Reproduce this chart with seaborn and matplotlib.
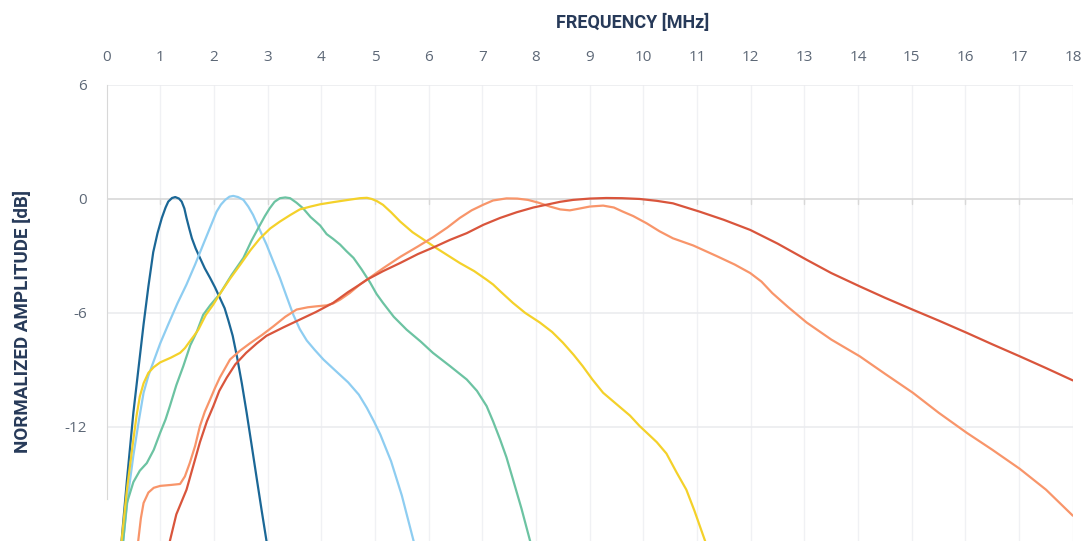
import numpy as np
import pandas as pd
import matplotlib
matplotlib.use("Agg")
import matplotlib.pyplot as plt
import seaborn as sns

# frequency [MHz] / normalized amplitude [dB]
f_dark = [0.28, 0.38, 0.5, 0.6, 0.69, 0.78, 0.87, 0.95, 1.03, 1.1, 1.15, 1.22, 1.28, 1.35, 1.4, 1.45, 1.49,
          1.54, 1.59, 1.66, 1.74, 1.83, 1.93, 2.02, 2.11, 2.2, 2.27, 2.35, 2.43, 2.52, 2.61, 2.7, 2.8, 2.89, 2.98]
a_dark = [-18.0, -14.8, -11.25, -8.8, -6.6, -4.6, -2.8, -1.8, -1.0, -0.45, -0.14, 0.05, 0.1, 0.02, -0.14, -0.5,
          -1.0, -1.55, -2.07, -2.6, -3.1, -3.65, -4.16, -4.65, -5.2, -5.75, -6.4, -7.2, -8.3, -9.7, -11.25,
          -12.9, -14.75, -16.4, -18.0]

f_light = [0.31, 0.4, 0.5, 0.6, 0.69, 0.78, 0.87, 1.0, 1.15, 1.32, 1.49, 1.65, 1.8, 1.93, 2.05, 2.13, 2.21, 2.29,
           2.36, 2.45, 2.55, 2.64, 2.73, 2.85, 2.98, 3.1, 3.23, 3.35, 3.48, 3.6, 3.73, 3.88, 4.04, 4.25, 4.5, 4.7,
           4.85, 4.98, 5.1, 5.2, 5.3, 5.4, 5.5, 5.61, 5.72]
a_light = [-18.0, -15.6, -13.5, -11.7, -10.2, -9.3, -8.6, -7.6, -6.6, -5.5, -4.5, -3.45, -2.4, -1.5, -0.67, -0.3,
           -0.05, 0.12, 0.16, 0.1, -0.05, -0.4, -0.84, -1.6, -2.4, -3.25, -4.16, -5.1, -6.1, -6.85, -7.45, -7.95,
           -8.45, -9.0, -9.65, -10.3, -11.0, -11.7, -12.4, -13.1, -13.8, -14.7, -15.6, -16.8, -18.0]

f_green = [0.31, 0.38, 0.5, 0.62, 0.75, 0.88, 1.0, 1.1, 1.18, 1.3, 1.43, 1.56, 1.68, 1.8, 1.93, 2.11, 2.33, 2.55,
           2.7, 2.86, 2.95, 3.04, 3.13, 3.23, 3.33, 3.42, 3.54, 3.66, 3.8, 3.98, 4.1, 4.22, 4.35, 4.47, 4.6, 4.75,
           4.91, 5.03, 5.15, 5.35, 5.59, 5.85, 6.08, 6.4, 6.71, 6.9, 7.08, 7.2, 7.33, 7.45, 7.57, 7.73, 7.89]
a_green = [-18.0, -16.0, -14.9, -14.3, -13.9, -13.2, -12.3, -11.6, -10.9, -9.8, -8.8, -7.7, -7.0, -6.1, -5.6,
           -5.0, -4.0, -3.1, -2.2, -1.36, -0.9, -0.49, -0.15, 0.04, 0.08, 0.04, -0.2, -0.49, -0.95, -1.4, -1.85,
           -2.1, -2.4, -2.75, -3.1, -3.7, -4.4, -5.0, -5.47, -6.2, -6.88, -7.5, -8.1, -8.8, -9.5, -10.1, -10.9,
           -11.7, -12.65, -13.6, -14.75, -16.3, -18.0]

f_yellow = [0.28, 0.38, 0.5, 0.56, 0.62, 0.69, 0.78, 0.88, 1.0, 1.2, 1.37, 1.46, 1.55, 1.63, 1.71, 1.85, 1.99,
            2.11, 2.3, 2.49, 2.68, 2.86, 3.05, 3.23, 3.42, 3.6, 3.8, 3.98, 4.22, 4.5, 4.72, 4.85, 4.94, 5.04, 5.15,
            5.3, 5.47, 5.7, 5.96, 6.15, 6.34, 6.58, 6.85, 7.08, 7.2, 7.35, 7.57, 7.8, 8.07, 8.3, 8.5, 8.7, 8.87,
            9.05, 9.25, 9.5, 9.75, 9.93, 10.1, 10.25, 10.43, 10.62, 10.8, 10.95, 11.15]
a_yellow = [-18.0, -15.3, -12.65, -11.4, -10.4, -9.7, -9.15, -8.85, -8.6, -8.35, -8.1, -7.85, -7.5, -7.2, -6.88,
            -6.1, -5.55, -5.0, -4.2, -3.46, -2.7, -2.07, -1.55, -1.19, -0.85, -0.55, -0.4, -0.28, -0.17, -0.05,
            0.04, 0.06, 0.0, -0.12, -0.31, -0.7, -1.19, -1.75, -2.24, -2.6, -2.94, -3.37, -3.8, -4.25, -4.5, -4.9,
            -5.47, -6.0, -6.5, -7.0, -7.56, -8.2, -8.8, -9.5, -10.2, -10.8, -11.4, -11.95, -12.4, -12.8, -13.4,
            -14.4, -15.3, -16.4, -18.0]

f_salmon = [0.59, 0.64, 0.69, 0.78, 0.88, 1.0, 1.2, 1.37, 1.46, 1.55, 1.65, 1.74, 1.83, 1.93, 2.02, 2.11, 2.3,
            2.48, 2.67, 2.9, 3.11, 3.33, 3.54, 3.75, 3.91, 4.1, 4.22, 4.35, 4.53, 4.72, 4.85, 5.15, 5.47, 5.8,
            6.09, 6.35, 6.58, 6.8, 7.02, 7.2, 7.45, 7.65, 7.85, 8.05, 8.26, 8.45, 8.63, 8.82, 9.0, 9.25, 9.45,
            9.62, 9.81, 10.06, 10.3, 10.55, 10.93, 11.36, 11.7, 11.99, 12.2, 12.4, 12.7, 13.04, 13.5, 14.03, 14.5,
            15.02, 15.5, 16.02, 16.5, 17.01, 17.5, 18.0]
a_salmon = [-18.0, -16.8, -16.0, -15.45, -15.2, -15.1, -15.05, -15.0, -14.6, -13.9, -13.0, -11.95, -11.2, -10.55,
            -9.95, -9.4, -8.45, -8.0, -7.6, -7.15, -6.7, -6.2, -5.82, -5.7, -5.65, -5.6, -5.5, -5.3, -4.95, -4.5,
            -4.25, -3.65, -3.05, -2.5, -2.0, -1.5, -1.0, -0.6, -0.3, -0.08, 0.03, 0.02, -0.05, -0.2, -0.4, -0.55,
            -0.6, -0.5, -0.4, -0.35, -0.45, -0.67, -0.9, -1.28, -1.7, -2.07, -2.45, -3.0, -3.45, -3.9, -4.35,
            -4.95, -5.7, -6.5, -7.4, -8.28, -9.2, -10.2, -11.25, -12.3, -13.2, -14.2, -15.3, -16.67]

f_red = [1.18, 1.3, 1.49, 1.62, 1.74, 1.87, 1.99, 2.1, 2.24, 2.4, 2.6, 2.8, 2.98, 3.3, 3.6, 3.9, 4.22, 4.5, 4.72,
         4.85, 5.15, 5.47, 5.8, 6.09, 6.4, 6.71, 7.02, 7.33, 7.64, 7.95, 8.2, 8.45, 8.69, 9.0, 9.31, 9.6, 9.93,
         10.25, 10.55, 10.8, 11.05, 11.5, 11.99, 12.5, 13.04, 13.5, 14.03, 14.5, 15.02, 15.5, 16.02, 16.5, 17.01,
         17.5, 18.0]
a_red = [-18.0, -16.6, -15.3, -14.0, -12.8, -11.7, -10.9, -10.1, -9.4, -8.7, -8.1, -7.6, -7.2, -6.75, -6.35,
         -5.95, -5.47, -4.9, -4.5, -4.25, -3.8, -3.37, -2.9, -2.55, -2.15, -1.8, -1.36, -1.0, -0.7, -0.45, -0.3,
         -0.15, -0.05, 0.02, 0.05, 0.04, 0.0, -0.1, -0.23, -0.45, -0.67, -1.1, -1.63, -2.35, -3.2, -3.9, -4.6,
         -5.2, -5.83, -6.4, -7.04, -7.65, -8.28, -8.9, -9.55]

series = [
    (f_dark, a_dark, "#1b6796"),
    (f_light, a_light, "#8ecdf1"),
    (f_green, a_green, "#6cc3a2"),
    (f_yellow, a_yellow, "#f4d12a"),
    (f_salmon, a_salmon, "#f8956a"),
    (f_red, a_red, "#d9553c"),
]

x_ticks = list(range(0, 19))
y_ticks = [6, 0, -6, -12]

sns.set_style("white")
plt.rcParams["font.family"] = ["Open Sans", "DejaVu Sans"]

fig = plt.figure(figsize=(10.87, 5.41), dpi=100)
ax = fig.add_axes([0.098, 0.0, 0.889, 0.843])

for fx, ay, col in series:
    df = pd.DataFrame({"f": fx, "a": ay})
    sns.lineplot(data=df, x="f", y="a", ax=ax, color=col, linewidth=1.6, sort=False, zorder=3)

ax.set_xlim(0, 18)
ax.set_ylim(-18, 6)

# grid
for x in x_ticks[1:]:
    ax.axvline(x, color="#f0f1f4", linewidth=1.0, zorder=1)
for y in [6, -6, -12]:
    ax.axhline(y, color="#ebecef", linewidth=1.2, zorder=1)
ax.axhline(0, color="#d8d8d8", linewidth=1.2, zorder=2)
for x in x_ticks[1:]:
    ax.plot([x, x], [0, -0.28], color="#d8d8d8", linewidth=1.0, zorder=2)

for s in ["top", "right", "bottom"]:
    ax.spines[s].set_visible(False)
ax.spines["left"].set_color("#d8d8d8")
ax.spines["left"].set_bounds(-15.8, 6)

ax.xaxis.tick_top()
ax.set_xticks(x_ticks)
ax.set_xticklabels([str(v) for v in x_ticks])
ax.set_yticks(y_ticks)
ax.set_yticklabels([str(v) for v in y_ticks])
ax.tick_params(axis="both", length=0, labelsize=11, colors="#5d6877")
ax.tick_params(axis="x", pad=14)
ax.tick_params(axis="y", pad=14)

ax.set_xlabel("")
ax.set_ylabel("")
fig.text(0.582, 0.958, "FREQUENCY [MHz]", ha="center", va="center", fontsize=13,
         fontweight="bold", color="#273a59", family=["Roboto", "DejaVu Sans"])
fig.text(0.021, 0.405, "NORMALIZED AMPLITUDE [dB]", ha="center", va="center", rotation=90,
         fontsize=13.5, fontweight="bold", color="#273a59", family=["Roboto", "DejaVu Sans"])

fig.savefig("out.png", dpi=100)
